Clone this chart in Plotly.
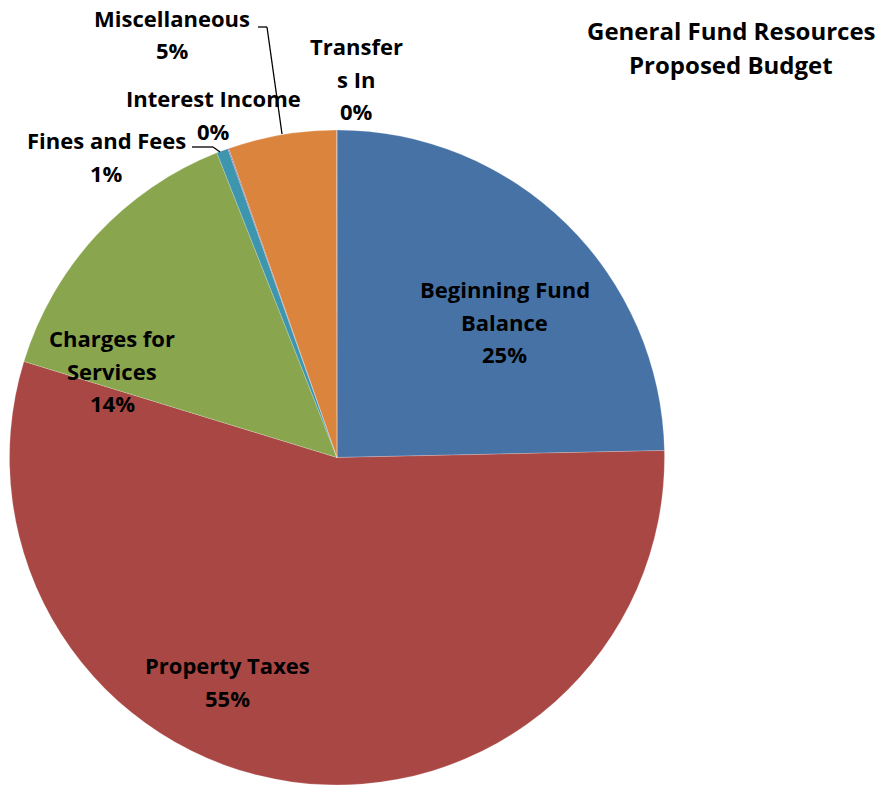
import plotly.graph_objects as go

W, H = 886, 787

categories = ["Beginning Fund Balance", "Property Taxes", "Charges for Services",
              "Fines and Fees", "Interest Income", "Miscellaneous", "Transfers In"]
values = [24.66, 55.08, 14.28, 0.57, 0.05, 5.35, 0.01]
colors = ["#4672A6", "#A94744", "#89A54E", "#3D96AE", "#80699B", "#DB843D", "#92A8CD"]
pct_labels = ["25%", "55%", "14%", "1%", "0%", "5%", "0%"]

title_lines = ["General Fund Resources", "Proposed Budget"]

# label text lines per slice (in slice order)
label_lines = [
    ["Beginning Fund", "Balance"],
    ["Property Taxes"],
    ["Charges for", "Services"],
    ["Fines and Fees"],
    ["Interest Income"],
    ["Miscellaneous"],
    ["Transfer", "s In"],
]
# label anchor: (center x px, first line y px)
label_pos = [(505, 289), (227, 665), (112, 338), (106, 140), (213, 98), (172, 18), (356, 46)]
line_step = 32.5

def px(x):
    return x / W

def py(y):
    return 1 - y / H

fig = go.Figure()
fig.add_trace(go.Pie(
    labels=categories, values=values, sort=False, direction="clockwise", rotation=0,
    marker=dict(colors=colors, line=dict(color="rgba(255,255,255,0.4)", width=0.5)),
    textinfo="none", showlegend=False,
    domain=dict(x=[px(9), px(665)], y=[py(785), py(130)]),
))

annotations = []
font = dict(family="Open Sans, Noto Sans, sans-serif", size=22, color="#000000")
for lines, pct, (cx, y0) in zip(label_lines, pct_labels, label_pos):
    for i, t in enumerate(lines + [pct]):
        annotations.append(dict(
            x=px(cx), y=py(y0 + i * line_step), xref="paper", yref="paper",
            text="<b>" + t + "</b>", showarrow=False, xanchor="center", yanchor="middle",
            font=font))
for i, t in enumerate(title_lines):
    annotations.append(dict(
        x=px(731), y=py(31 + i * 34), xref="paper", yref="paper",
        text="<b>" + t + "</b>", showarrow=False, xanchor="center", yanchor="middle",
        font=dict(family="Open Sans, Noto Sans, sans-serif", size=24, color="#000000")))

shapes = []
def seg(x0, y0, x1, y1):
    shapes.append(dict(type="line", xref="paper", yref="paper",
                       x0=px(x0), y0=py(y0), x1=px(x1), y1=py(y1),
                       line=dict(color="#000000", width=1.3)))
# Miscellaneous leader
seg(258, 27, 267, 27)
seg(267, 27, 282, 134)
# Fines and Fees leader
seg(192, 147, 213, 147)
seg(213, 147, 220, 152)

fig.update_layout(
    width=W, height=H, margin=dict(l=0, r=0, t=0, b=0),
    paper_bgcolor="white", plot_bgcolor="white",
    annotations=annotations, shapes=shapes,
)
fig.write_html("out.html", config={"displayModeBar": False},
               post_script="document.body.style.margin='0';")
